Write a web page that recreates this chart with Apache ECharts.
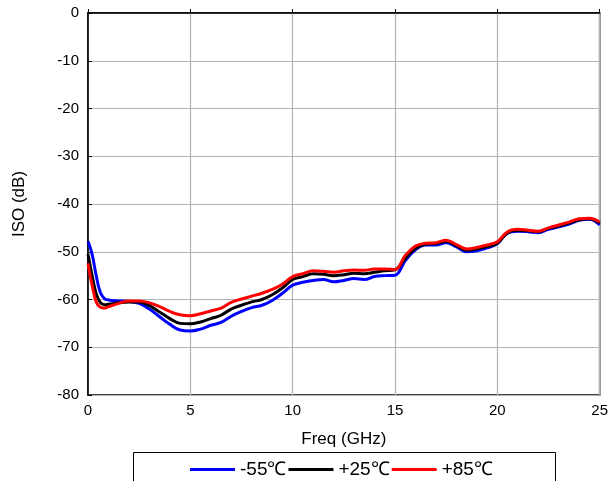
<!DOCTYPE html>
<html><head><meta charset="utf-8">
<script src="https://cdn.jsdelivr.net/npm/echarts@6/dist/echarts.min.js"></script>
<style>html,body{margin:0;padding:0;background:#fff}#c{width:611px;height:481px}</style>
</head><body><div id="c"></div>
<script>
var freq = [0,0.2,0.4,0.6,0.8,1,1.5,2,2.5,3,3.5,4,4.5,5,5.5,6,6.5,7,7.5,8,8.5,9,9.5,10,10.5,11,11.5,12,12.5,13,13.5,14,14.5,15,15.5,16,16.5,17,17.5,18,18.5,19,19.5,20,20.5,21,21.5,22,22.5,23,23.5,24,24.5,25];
var isoM55 = [-47.8,-50.5,-55,-58.5,-59.8,-60.1,-60.3,-60.4,-60.8,-62,-63.6,-65.2,-66.4,-66.6,-66.2,-65.4,-64.8,-63.5,-62.5,-61.7,-61.2,-60.2,-58.7,-57,-56.4,-56,-55.8,-56.3,-56,-55.6,-55.8,-55.2,-55,-54.9,-51.9,-49.6,-48.6,-48.6,-48.1,-49,-50,-49.8,-49.2,-48.3,-46.1,-45.7,-45.8,-46,-45.3,-44.8,-44.2,-43.4,-43.2,-44.4];
var isoP25 = [-50.5,-55,-58.8,-60.6,-61.1,-61,-60.7,-60.5,-60.5,-61.3,-62.6,-64,-65,-65.1,-64.7,-64,-63.3,-62,-61.2,-60.5,-60,-59,-57.6,-55.8,-55.2,-54.6,-54.7,-55,-54.8,-54.5,-54.6,-54.3,-54,-53.8,-51.4,-49.3,-48.4,-48.3,-47.8,-48.7,-49.7,-49.4,-48.9,-48.2,-46,-45.5,-45.6,-45.8,-45.1,-44.6,-44,-43.3,-43.1,-44];
var isoP85 = [-52.4,-57,-60.5,-61.6,-61.8,-61.5,-60.8,-60.3,-60.3,-60.7,-61.5,-62.5,-63.2,-63.4,-63,-62.4,-61.8,-60.6,-59.9,-59.3,-58.7,-57.9,-56.8,-55.2,-54.6,-54,-54.1,-54.3,-54,-53.8,-53.9,-53.6,-53.6,-53.7,-50.8,-48.8,-48.2,-48.1,-47.6,-48.5,-49.4,-49.1,-48.6,-47.9,-45.8,-45.3,-45.5,-45.7,-45,-44.4,-43.8,-43.1,-43,-43.8];
var seriesNames = ['-55\u2103','+25\u2103','+85\u2103'];
var colors = ['#0000ff','#000000','#ff0000'];

function pairs(v){ return freq.map(function(f,i){ return [f, v[i]]; }); }
var allData = [isoM55, isoP25, isoP85];

var chart = echarts.init(document.getElementById('c'));
var font = 'Liberation Sans, Arial, sans-serif';
chart.setOption({
  animation: false,
  backgroundColor: '#fff',
  grid: {left: 88, right: 10, top: 13, bottom: 86, show: true, borderColor: '#000', borderWidth: 1.5},
  xAxis: {
    type: 'value', min: 0, max: 25, interval: 5,
    name: 'Freq (GHz)', nameLocation: 'middle', nameGap: 36,
    nameTextStyle: {fontFamily: font, fontSize: 17, color: '#000'},
    axisLine: {lineStyle: {color: '#000', width: 1.5}},
    axisTick: {inside: true, length: 4, lineStyle: {color: '#000'}},
    axisLabel: {fontFamily: font, fontSize: 15, color: '#000', margin: 8},
    splitLine: {show: true, lineStyle: {color: '#b4b4b4', width: 1.2}}
  },
  yAxis: {
    type: 'value', min: -80, max: 0, interval: 10,
    name: 'ISO (dB)', nameLocation: 'middle', nameGap: 60,
    nameTextStyle: {fontFamily: font, fontSize: 17, color: '#000'},
    axisLine: {lineStyle: {color: '#000', width: 1.5}},
    axisTick: {inside: true, length: 4, lineStyle: {color: '#000'}},
    axisLabel: {fontFamily: font, fontSize: 15, color: '#000', margin: 9},
    splitLine: {show: true, lineStyle: {color: '#b4b4b4', width: 1.2}}
  },
  legend: {
    top: 455, left: 185, itemGap: 2, itemWidth: 45, itemHeight: 3,
    icon: 'rect',
    textStyle: {fontFamily: font, fontSize: 19, color: '#000'},
    data: seriesNames
  },
  graphic: [{
    type: 'rect', left: 133, top: 452, z: -1,
    shape: {width: 422, height: 30},
    style: {fill: '#fff', stroke: '#000', lineWidth: 1}
  }],
  series: seriesNames.map(function(n, i){
    return {
      name: n, type: 'line', data: pairs(allData[i]), smooth: 0.4,
      showSymbol: false, symbol: 'none',
      lineStyle: {color: colors[i], width: 3}, itemStyle: {color: colors[i]}
    };
  })
});
</script></body></html>
